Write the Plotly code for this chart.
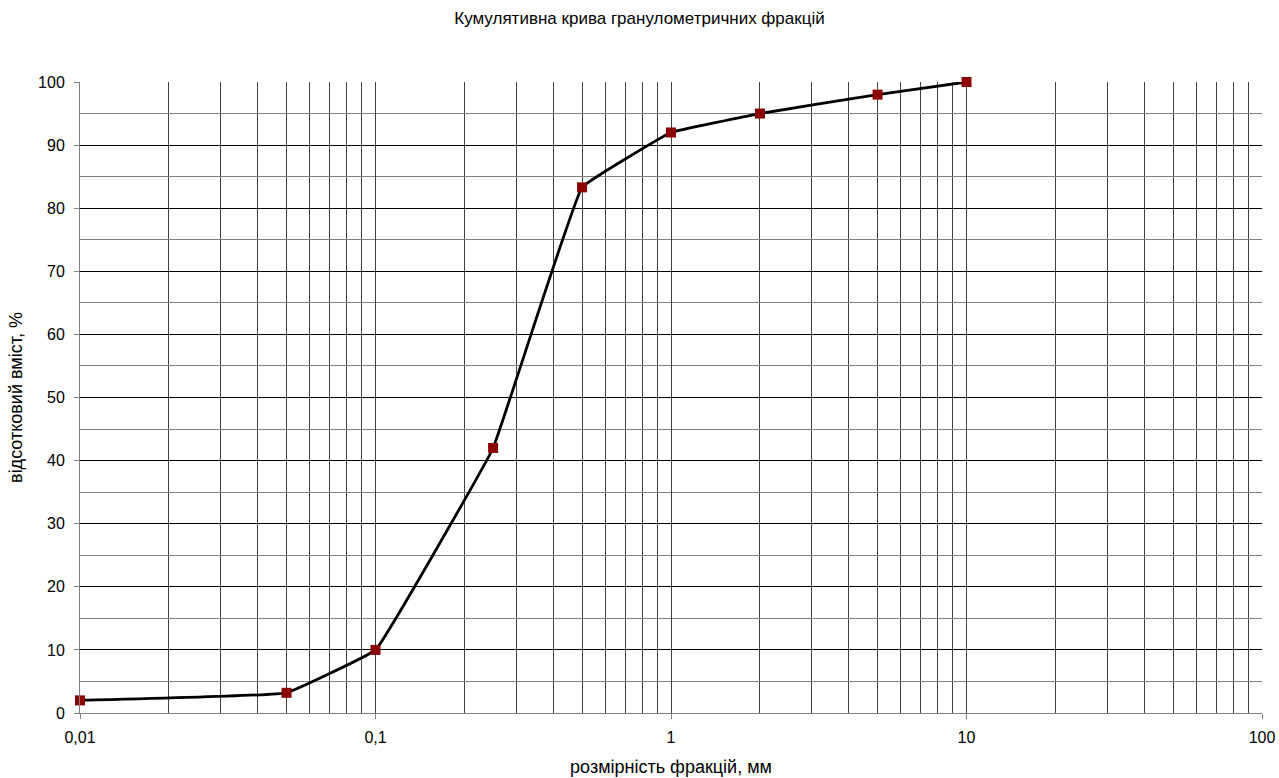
import plotly.graph_objects as go

sizes_mm = [0.01, 0.05, 0.1, 0.25, 0.5, 1, 2, 5, 10]
cumulative_pct = [2, 3.2, 10, 42, 83.3, 92, 95, 98, 100]
x_tick_vals = [0.01, 0.1, 1, 10, 100]
x_tick_text = ["0,01", "0,1", "1", "10", "100"]
y_tick_vals = [0, 10, 20, 30, 40, 50, 60, 70, 80, 90, 100]

fig = go.Figure()
fig.add_trace(go.Scatter(
    x=sizes_mm, y=cumulative_pct, mode="lines+markers",
    line=dict(color="black", width=2.8, shape="spline", smoothing=0.2),
    marker=dict(symbol="square", size=10, color="#8B0000"),
    showlegend=False, cliponaxis=False,
))

font = "Liberation Sans, Arial, sans-serif"
fig.update_layout(
    width=1279, height=778,
    margin=dict(l=80, r=17, t=82, b=65, autoexpand=False),
    paper_bgcolor="white", plot_bgcolor="white",
    font=dict(family=font, size=16, color="black"),
    title=dict(text="Кумулятивна крива гранулометричних фракцій",
               x=0.5, xanchor="center", y=0.977, yanchor="middle",
               font=dict(size=17, family=font, color="black")),
    # secondary vertical axis line crossing at x = 1 (middle of the log range)
    yaxis2=dict(overlaying="y", anchor="free", position=0.5, side="left",
                range=[0, 100], tickvals=y_tick_vals, showticklabels=False,
                ticks="outside", ticklen=4, tickcolor="black",
                showline=True, linecolor="black", linewidth=1,
                showgrid=False, zeroline=False, automargin=False),
)
fig.update_xaxes(
    type="log", range=[-2, 2], automargin=False,
    tickvals=x_tick_vals, ticktext=x_tick_text,
    ticks="outside", ticklen=5, tickcolor="#808080",
    ticklabelstandoff=5,
    showgrid=True, gridcolor="#404040", gridwidth=1,
    minor=dict(dtick="D1", showgrid=True, gridcolor="#404040", gridwidth=1),
    showline=True, linecolor="#808080", linewidth=1,
    title=dict(text="розмірність фракцій, мм", font=dict(size=18), standoff=15),
    tickfont=dict(size=16), zeroline=False,
)
fig.update_yaxes(
    selector=dict(overlaying=None),
    range=[0, 100], tickvals=y_tick_vals, automargin=False,
    ticks="outside", ticklen=5, tickcolor="#808080",
    ticklabelstandoff=6,
    showgrid=True, gridcolor="black", gridwidth=1,
    minor=dict(dtick=5, showgrid=True, gridcolor="#808080", gridwidth=1),
    showline=True, linecolor="#808080", linewidth=1, mirror=False,
    title=dict(text="відсотковий вміст, %", font=dict(size=18), standoff=10),
    tickfont=dict(size=16), zeroline=False,
)

fig.write_html(
    "out.html",
    config={"displayModeBar": False},
    post_script="document.body.style.margin='0';document.body.style.overflow='hidden';",
)
